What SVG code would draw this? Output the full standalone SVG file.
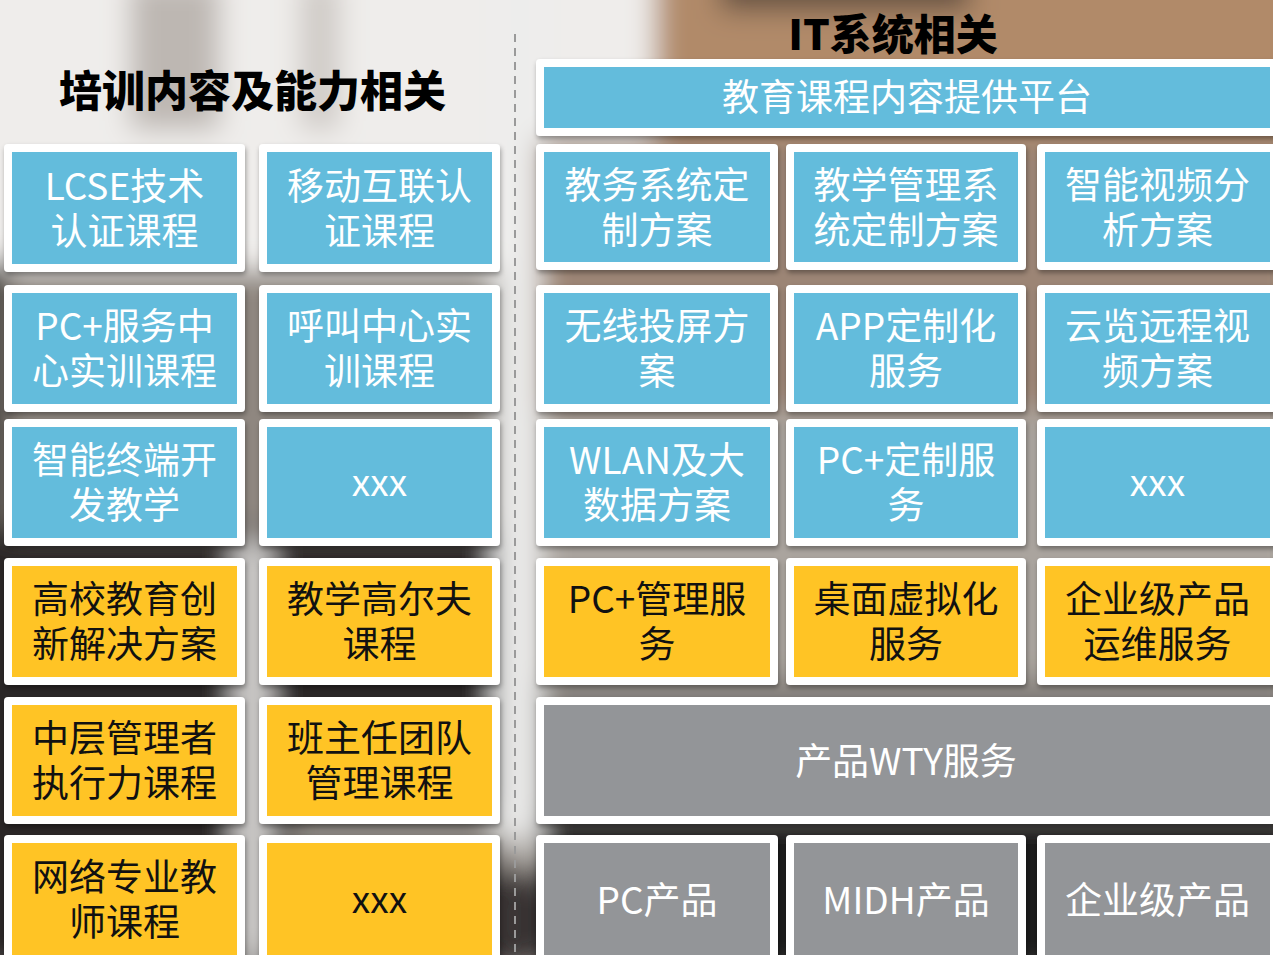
<svg xmlns="http://www.w3.org/2000/svg" width="1273" height="955" viewBox="0 0 1273 955">
<style>
.frame{fill:#ffffff;filter:url(#shadow)}
.blue{fill:#63bcdc}
.yellow{fill:#ffc425}
.gray{fill:#939598}
text{font-family:"Noto Sans CJK SC","Noto Sans",sans-serif;text-anchor:middle}
.t{font-size:37px}
.w{fill:#ffffff}
.k{fill:#111111}
.title{font-weight:900;fill:#000000}
</style>
<defs>
<filter id="bgblur" x="-10%" y="-10%" width="120%" height="120%"><feGaussianBlur stdDeviation="14"/></filter>
<filter id="shadow" x="-5%" y="-5%" width="110%" height="115%"><feDropShadow dx="1" dy="3" stdDeviation="2.5" flood-color="#000000" flood-opacity="0.35"/></filter>
</defs>

<g id="background">
<rect x="0" y="0" width="1273" height="955" fill="#c4beb8"/>
<g filter="url(#bgblur)">
<rect x="-40" y="-40" width="700" height="330" fill="#efedeb"/>
<rect x="130" y="-20" width="90" height="150" fill="#bdb7b2"/>
<rect x="300" y="-20" width="40" height="150" fill="#cfcac6"/>
<rect x="-40" y="270" width="560" height="270" fill="#8f8780"/>
<rect x="-40" y="260" width="45" height="700" fill="#1e1b19"/>
<rect x="-40" y="530" width="560" height="440" fill="#2b2725"/>
<rect x="235" y="540" width="35" height="420" fill="#d8d6d4"/>
<rect x="290" y="810" width="230" height="60" fill="#8a8580"/>
<rect x="495" y="-20" width="50" height="860" fill="#ededec"/>
<ellipse cx="520" cy="920" rx="30" ry="45" fill="#3a3634"/>
<rect x="655" y="-40" width="660" height="190" fill="#b18a69"/>
<rect x="720" y="-30" width="250" height="40" fill="#5e4d40"/>
<rect x="540" y="140" width="760" height="280" fill="#9c8574"/>
<rect x="540" y="410" width="760" height="280" fill="#aaa49e"/>
<rect x="540" y="680" width="760" height="140" fill="#7f7a76"/>
<rect x="540" y="815" width="760" height="160" fill="#1f1c1a"/>
</g>
<line x1="515" y1="34" x2="515" y2="955" stroke="#9a9a9a" stroke-width="2" stroke-dasharray="8 6"/>
</g>

<g id="connectors"/>

<text class="title" x="252.5" y="107" font-size="43">培训内容及能力相关</text>
<text class="title" x="893" y="50" font-size="42">IT系统相关</text>

<!-- left column 1 -->
<g id="n-lcse"><rect class="frame" x="4" y="144" width="241" height="128" rx="4"/><rect class="blue" x="12" y="152" width="225" height="112"/><text class="t w"><tspan x="124.5" y="199.5">LCSE技术</tspan><tspan x="124.5" y="244.5">认证课程</tspan></text></g>
<g id="n-mobile"><rect class="frame" x="259" y="144" width="241" height="128" rx="4"/><rect class="blue" x="267" y="152" width="225" height="112"/><text class="t w"><tspan x="379.5" y="199.5">移动互联认</tspan><tspan x="379.5" y="244.5">证课程</tspan></text></g>

<g id="n-pcservice"><rect class="frame" x="4" y="285" width="241" height="127" rx="4"/><rect class="blue" x="12" y="293" width="225" height="111"/><text class="t w"><tspan x="124.5" y="340">PC+服务中</tspan><tspan x="124.5" y="385">心实训课程</tspan></text></g>
<g id="n-callcenter"><rect class="frame" x="259" y="285" width="241" height="127" rx="4"/><rect class="blue" x="267" y="293" width="225" height="111"/><text class="t w"><tspan x="379.5" y="340">呼叫中心实</tspan><tspan x="379.5" y="385">训课程</tspan></text></g>

<g id="n-terminal"><rect class="frame" x="4" y="419" width="241" height="127" rx="4"/><rect class="blue" x="12" y="427" width="225" height="111"/><text class="t w"><tspan x="124.5" y="474">智能终端开</tspan><tspan x="124.5" y="519">发教学</tspan></text></g>
<g id="n-xxx1"><rect class="frame" x="259" y="419" width="241" height="127" rx="4"/><rect class="blue" x="267" y="427" width="225" height="111"/><text class="t w" x="379.5" y="495.5">xxx</text></g>

<g id="n-univ"><rect class="frame" x="4" y="558" width="241" height="127" rx="4"/><rect class="yellow" x="12" y="566" width="225" height="111"/><text class="t k"><tspan x="124.5" y="613">高校教育创</tspan><tspan x="124.5" y="658">新解决方案</tspan></text></g>
<g id="n-golf"><rect class="frame" x="259" y="558" width="241" height="127" rx="4"/><rect class="yellow" x="267" y="566" width="225" height="111"/><text class="t k"><tspan x="379.5" y="613">教学高尔夫</tspan><tspan x="379.5" y="658">课程</tspan></text></g>

<g id="n-midmgr"><rect class="frame" x="4" y="697" width="241" height="127" rx="4"/><rect class="yellow" x="12" y="705" width="225" height="111"/><text class="t k"><tspan x="124.5" y="752">中层管理者</tspan><tspan x="124.5" y="797">执行力课程</tspan></text></g>
<g id="n-teacher"><rect class="frame" x="259" y="697" width="241" height="127" rx="4"/><rect class="yellow" x="267" y="705" width="225" height="111"/><text class="t k"><tspan x="379.5" y="752">班主任团队</tspan><tspan x="379.5" y="797">管理课程</tspan></text></g>

<g id="n-network"><rect class="frame" x="4" y="835" width="241" height="140" rx="4"/><rect class="yellow" x="12" y="843" width="225" height="130"/><text class="t k"><tspan x="124.5" y="891">网络专业教</tspan><tspan x="124.5" y="936">师课程</tspan></text></g>
<g id="n-xxx2"><rect class="frame" x="259" y="835" width="241" height="140" rx="4"/><rect class="yellow" x="267" y="843" width="225" height="130"/><text class="t k" x="379.5" y="912.5">xxx</text></g>

<!-- right side -->
<g id="n-platform"><rect class="frame" x="536" y="59" width="750" height="77" rx="4"/><rect class="blue" x="544" y="67" width="726" height="61"/><text class="t w" x="907" y="111">教育课程内容提供平台</text></g>

<g id="n-edu"><rect class="frame" x="536" y="144" width="242" height="126" rx="4"/><rect class="blue" x="544" y="152" width="226" height="110"/><text class="t w"><tspan x="657" y="198.5">教务系统定</tspan><tspan x="657" y="243.5">制方案</tspan></text></g>
<g id="n-teachmgmt"><rect class="frame" x="786" y="144" width="240" height="126" rx="4"/><rect class="blue" x="794" y="152" width="224" height="110"/><text class="t w"><tspan x="906" y="198.5">教学管理系</tspan><tspan x="906" y="243.5">统定制方案</tspan></text></g>
<g id="n-video"><rect class="frame" x="1037" y="144" width="250" height="126" rx="4"/><rect class="blue" x="1045" y="152" width="225" height="110"/><text class="t w"><tspan x="1157.5" y="198.5">智能视频分</tspan><tspan x="1157.5" y="243.5">析方案</tspan></text></g>

<g id="n-wireless"><rect class="frame" x="536" y="285" width="242" height="127" rx="4"/><rect class="blue" x="544" y="293" width="226" height="111"/><text class="t w"><tspan x="657" y="340">无线投屏方</tspan><tspan x="657" y="385">案</tspan></text></g>
<g id="n-app"><rect class="frame" x="786" y="285" width="240" height="127" rx="4"/><rect class="blue" x="794" y="293" width="224" height="111"/><text class="t w"><tspan x="906" y="340">APP定制化</tspan><tspan x="906" y="385">服务</tspan></text></g>
<g id="n-cloud"><rect class="frame" x="1037" y="285" width="250" height="127" rx="4"/><rect class="blue" x="1045" y="293" width="225" height="111"/><text class="t w"><tspan x="1157.5" y="340">云览远程视</tspan><tspan x="1157.5" y="385">频方案</tspan></text></g>

<g id="n-wlan"><rect class="frame" x="536" y="419" width="242" height="127" rx="4"/><rect class="blue" x="544" y="427" width="226" height="111"/><text class="t w"><tspan x="657" y="474">WLAN及大</tspan><tspan x="657" y="519">数据方案</tspan></text></g>
<g id="n-pccustom"><rect class="frame" x="786" y="419" width="240" height="127" rx="4"/><rect class="blue" x="794" y="427" width="224" height="111"/><text class="t w"><tspan x="906" y="474">PC+定制服</tspan><tspan x="906" y="519">务</tspan></text></g>
<g id="n-xxx3"><rect class="frame" x="1037" y="419" width="250" height="127" rx="4"/><rect class="blue" x="1045" y="427" width="225" height="111"/><text class="t w" x="1157.5" y="495.5">xxx</text></g>

<g id="n-pcmgmt"><rect class="frame" x="536" y="558" width="242" height="127" rx="4"/><rect class="yellow" x="544" y="566" width="226" height="111"/><text class="t k"><tspan x="657" y="613">PC+管理服</tspan><tspan x="657" y="658">务</tspan></text></g>
<g id="n-vdesk"><rect class="frame" x="786" y="558" width="240" height="127" rx="4"/><rect class="yellow" x="794" y="566" width="224" height="111"/><text class="t k"><tspan x="906" y="613">桌面虚拟化</tspan><tspan x="906" y="658">服务</tspan></text></g>
<g id="n-entops"><rect class="frame" x="1037" y="558" width="250" height="127" rx="4"/><rect class="yellow" x="1045" y="566" width="225" height="111"/><text class="t k"><tspan x="1157.5" y="613">企业级产品</tspan><tspan x="1157.5" y="658">运维服务</tspan></text></g>

<g id="n-wty"><rect class="frame" x="536" y="697" width="750" height="127" rx="4"/><rect class="gray" x="544" y="705" width="726" height="111"/><text class="t w" x="906" y="774.5">产品WTY服务</text></g>

<g id="n-pc"><rect class="frame" x="536" y="835" width="242" height="140" rx="4"/><rect class="gray" x="544" y="843" width="226" height="130"/><text class="t w" x="657" y="913.5">PC产品</text></g>
<g id="n-midh"><rect class="frame" x="786" y="835" width="240" height="140" rx="4"/><rect class="gray" x="794" y="843" width="224" height="130"/><text class="t w" x="906" y="913.5">MIDH产品</text></g>
<g id="n-ent"><rect class="frame" x="1037" y="835" width="250" height="140" rx="4"/><rect class="gray" x="1045" y="843" width="225" height="130"/><text class="t w" x="1157.5" y="913.5">企业级产品</text></g>
</svg>
